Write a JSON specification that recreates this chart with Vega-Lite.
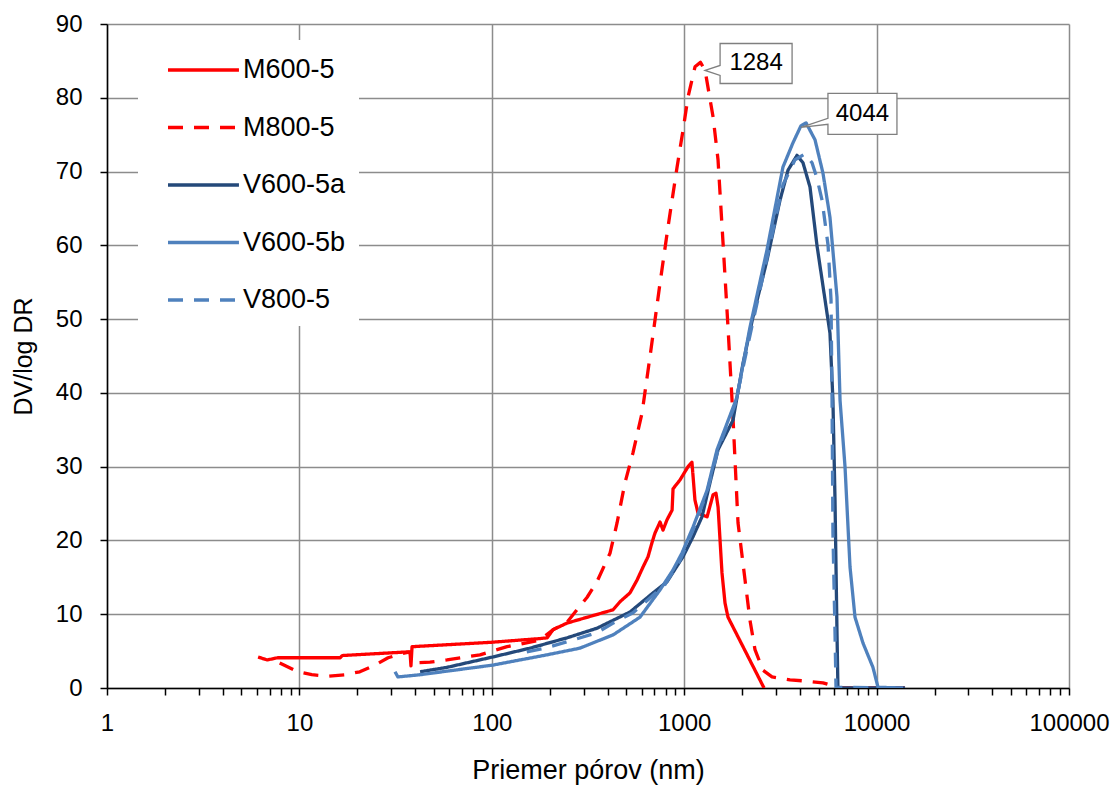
{
  "$schema": "https://vega.github.io/schema/vega-lite/v6.json",
  "width": 962,
  "height": 664,
  "autosize": "none",
  "padding": {"left": 107, "top": 24, "right": 47, "bottom": 99},
  "background": "white",
  "config": {
    "view": {"stroke": null},
    "font": "Liberation Sans",
    "axis": {"labelFont": "Liberation Sans", "titleFont": "Liberation Sans", "labelColor": "black", "titleColor": "black", "titleFontWeight": "normal"}
  },
  "datasets": {
    "curves": [
      {"s": "M600-5", "x": 6.1, "y": 4.2}, {"s": "M600-5", "x": 6.8, "y": 3.8}, {"s": "M600-5", "x": 7.7, "y": 4.1},
      {"s": "M600-5", "x": 16.3, "y": 4.1}, {"s": "M600-5", "x": 16.7, "y": 4.4}, {"s": "M600-5", "x": 37.0, "y": 4.9},
      {"s": "M600-5", "x": 37.6, "y": 4.8}, {"s": "M600-5", "x": 38.0, "y": 3.0}, {"s": "M600-5", "x": 38.5, "y": 5.6},
      {"s": "M600-5", "x": 100, "y": 6.2}, {"s": "M600-5", "x": 178, "y": 6.7}, {"s": "M600-5", "x": 194, "y": 6.8},
      {"s": "M600-5", "x": 208, "y": 7.9}, {"s": "M600-5", "x": 246, "y": 8.8}, {"s": "M600-5", "x": 427, "y": 10.6},
      {"s": "M600-5", "x": 464, "y": 11.7}, {"s": "M600-5", "x": 523, "y": 12.9}, {"s": "M600-5", "x": 568, "y": 14.6},
      {"s": "M600-5", "x": 611, "y": 16.4}, {"s": "M600-5", "x": 649, "y": 17.8}, {"s": "M600-5", "x": 680, "y": 19.7},
      {"s": "M600-5", "x": 705, "y": 21.0}, {"s": "M600-5", "x": 749, "y": 22.5}, {"s": "M600-5", "x": 776, "y": 21.4},
      {"s": "M600-5", "x": 814, "y": 22.8}, {"s": "M600-5", "x": 865, "y": 24.1}, {"s": "M600-5", "x": 875, "y": 27.0},
      {"s": "M600-5", "x": 951, "y": 28.2}, {"s": "M600-5", "x": 1047, "y": 30.0}, {"s": "M600-5", "x": 1097, "y": 30.6},
      {"s": "M600-5", "x": 1137, "y": 25.5}, {"s": "M600-5", "x": 1180, "y": 23.7}, {"s": "M600-5", "x": 1315, "y": 23.2},
      {"s": "M600-5", "x": 1413, "y": 26.2}, {"s": "M600-5", "x": 1463, "y": 26.4}, {"s": "M600-5", "x": 1500, "y": 24.5},
      {"s": "M600-5", "x": 1572, "y": 15.6}, {"s": "M600-5", "x": 1630, "y": 11.5}, {"s": "M600-5", "x": 1689, "y": 9.6},
      {"s": "M600-5", "x": 2600, "y": 0},

      {"s": "M800-5", "x": 7.9, "y": 3.4}, {"s": "M800-5", "x": 9.8, "y": 2.2}, {"s": "M800-5", "x": 11.6, "y": 1.8},
      {"s": "M800-5", "x": 14.1, "y": 1.6}, {"s": "M800-5", "x": 17.3, "y": 1.8}, {"s": "M800-5", "x": 20.6, "y": 2.2},
      {"s": "M800-5", "x": 24.7, "y": 3.1}, {"s": "M800-5", "x": 28.9, "y": 4.1}, {"s": "M800-5", "x": 34.5, "y": 4.7},
      {"s": "M800-5", "x": 37.6, "y": 4.9}, {"s": "M800-5", "x": 38.5, "y": 3.4}, {"s": "M800-5", "x": 47.7, "y": 3.5},
      {"s": "M800-5", "x": 58.5, "y": 3.8}, {"s": "M800-5", "x": 86.8, "y": 4.5}, {"s": "M800-5", "x": 120, "y": 5.6},
      {"s": "M800-5", "x": 178, "y": 6.5}, {"s": "M800-5", "x": 208, "y": 7.9}, {"s": "M800-5", "x": 246, "y": 8.9},
      {"s": "M800-5", "x": 281, "y": 10.8}, {"s": "M800-5", "x": 313, "y": 12.3}, {"s": "M800-5", "x": 352, "y": 14.4},
      {"s": "M800-5", "x": 412, "y": 18.3}, {"s": "M800-5", "x": 448, "y": 22.4}, {"s": "M800-5", "x": 492, "y": 27.8},
      {"s": "M800-5", "x": 542, "y": 31.9}, {"s": "M800-5", "x": 604, "y": 37.3}, {"s": "M800-5", "x": 664, "y": 44.9},
      {"s": "M800-5", "x": 749, "y": 54.9}, {"s": "M800-5", "x": 824, "y": 62.5}, {"s": "M800-5", "x": 918, "y": 70.6},
      {"s": "M800-5", "x": 986, "y": 75.6}, {"s": "M800-5", "x": 1047, "y": 80.1}, {"s": "M800-5", "x": 1138, "y": 84.2},
      {"s": "M800-5", "x": 1215, "y": 84.8}, {"s": "M800-5", "x": 1284, "y": 83.7}, {"s": "M800-5", "x": 1413, "y": 77.4},
      {"s": "M800-5", "x": 1499, "y": 71.6}, {"s": "M800-5", "x": 1592, "y": 60.3}, {"s": "M800-5", "x": 1689, "y": 48.9},
      {"s": "M800-5", "x": 1793, "y": 36.7}, {"s": "M800-5", "x": 1904, "y": 22.4}, {"s": "M800-5", "x": 2072, "y": 14.6},
      {"s": "M800-5", "x": 2197, "y": 9.2}, {"s": "M800-5", "x": 2333, "y": 5.2}, {"s": "M800-5", "x": 2568, "y": 2.4},
      {"s": "M800-5", "x": 2860, "y": 1.5}, {"s": "M800-5", "x": 3546, "y": 1.1}, {"s": "M800-5", "x": 4247, "y": 0.95},
      {"s": "M800-5", "x": 5262, "y": 0.7}, {"s": "M800-5", "x": 5930, "y": 0.3}, {"s": "M800-5", "x": 6295, "y": 0},
      {"s": "M800-5", "x": 14000, "y": 0},

      {"s": "V600-5a", "x": 42.4, "y": 2.2}, {"s": "V600-5a", "x": 58.5, "y": 2.8}, {"s": "V600-5a", "x": 101, "y": 4.2},
      {"s": "V600-5a", "x": 158, "y": 5.4}, {"s": "V600-5a", "x": 246, "y": 6.8}, {"s": "V600-5a", "x": 352, "y": 8.1},
      {"s": "V600-5a", "x": 523, "y": 10.3}, {"s": "V600-5a", "x": 689, "y": 12.9}, {"s": "V600-5a", "x": 814, "y": 14.4},
      {"s": "V600-5a", "x": 986, "y": 17.8}, {"s": "V600-5a", "x": 1111, "y": 20.5}, {"s": "V600-5a", "x": 1237, "y": 23.2},
      {"s": "V600-5a", "x": 1361, "y": 27.8}, {"s": "V600-5a", "x": 1499, "y": 32.3}, {"s": "V600-5a", "x": 1793, "y": 36.3},
      {"s": "V600-5a", "x": 2021, "y": 44.0}, {"s": "V600-5a", "x": 2278, "y": 50.3}, {"s": "V600-5a", "x": 2694, "y": 58.0},
      {"s": "V600-5a", "x": 3146, "y": 66.1}, {"s": "V600-5a", "x": 3465, "y": 70.2}, {"s": "V600-5a", "x": 3858, "y": 72.2},
      {"s": "V600-5a", "x": 4143, "y": 71.2}, {"s": "V600-5a", "x": 4506, "y": 67.9}, {"s": "V600-5a", "x": 4898, "y": 60.0},
      {"s": "V600-5a", "x": 5723, "y": 48.1}, {"s": "V600-5a", "x": 5930, "y": 39.0}, {"s": "V600-5a", "x": 6079, "y": 25.5},
      {"s": "V600-5a", "x": 6225, "y": 7.5}, {"s": "V600-5a", "x": 6295, "y": 0}, {"s": "V600-5a", "x": 14060, "y": 0},

      {"s": "V600-5b", "x": 31.4, "y": 2.2}, {"s": "V600-5b", "x": 32.5, "y": 1.5}, {"s": "V600-5b", "x": 42.4, "y": 1.8},
      {"s": "V600-5b", "x": 101, "y": 3.1}, {"s": "V600-5b", "x": 194, "y": 4.5}, {"s": "V600-5b", "x": 287, "y": 5.4},
      {"s": "V600-5b", "x": 427, "y": 7.2}, {"s": "V600-5b", "x": 589, "y": 9.6}, {"s": "V600-5b", "x": 749, "y": 13.3},
      {"s": "V600-5b", "x": 875, "y": 16.0}, {"s": "V600-5b", "x": 974, "y": 18.3}, {"s": "V600-5b", "x": 1111, "y": 21.8},
      {"s": "V600-5b", "x": 1315, "y": 26.8}, {"s": "V600-5b", "x": 1481, "y": 32.3}, {"s": "V600-5b", "x": 1880, "y": 39.4},
      {"s": "V600-5b", "x": 2197, "y": 48.9}, {"s": "V600-5b", "x": 2694, "y": 59.4}, {"s": "V600-5b", "x": 3260, "y": 70.6},
      {"s": "V600-5b", "x": 3676, "y": 73.9}, {"s": "V600-5b", "x": 4044, "y": 76.2}, {"s": "V600-5b", "x": 4300, "y": 76.6},
      {"s": "V600-5b", "x": 4786, "y": 74.3}, {"s": "V600-5b", "x": 5262, "y": 69.8}, {"s": "V600-5b", "x": 5723, "y": 63.8},
      {"s": "V600-5b", "x": 6225, "y": 53.0}, {"s": "V600-5b", "x": 6457, "y": 39.0}, {"s": "V600-5b", "x": 6852, "y": 30.0},
      {"s": "V600-5b", "x": 7275, "y": 16.4}, {"s": "V600-5b", "x": 7723, "y": 9.6}, {"s": "V600-5b", "x": 8495, "y": 6.1},
      {"s": "V600-5b", "x": 9572, "y": 2.8}, {"s": "V600-5b", "x": 10170, "y": 0.1}, {"s": "V600-5b", "x": 13710, "y": 0},

      {"s": "V800-5", "x": 152, "y": 4.9}, {"s": "V800-5", "x": 189, "y": 5.4}, {"s": "V800-5", "x": 264, "y": 6.5},
      {"s": "V800-5", "x": 352, "y": 7.5}, {"s": "V800-5", "x": 427, "y": 8.8}, {"s": "V800-5", "x": 542, "y": 10.2},
      {"s": "V800-5", "x": 664, "y": 12.2}, {"s": "V800-5", "x": 794, "y": 14.0}, {"s": "V800-5", "x": 951, "y": 17.3},
      {"s": "V800-5", "x": 1111, "y": 21.4}, {"s": "V800-5", "x": 1315, "y": 26.6}, {"s": "V800-5", "x": 1499, "y": 32.3},
      {"s": "V800-5", "x": 1837, "y": 38.4}, {"s": "V800-5", "x": 2197, "y": 47.8}, {"s": "V800-5", "x": 2694, "y": 58.3},
      {"s": "V800-5", "x": 3260, "y": 68.2}, {"s": "V800-5", "x": 3767, "y": 71.6}, {"s": "V800-5", "x": 4247, "y": 72.4},
      {"s": "V800-5", "x": 4617, "y": 71.2}, {"s": "V800-5", "x": 4898, "y": 69.1}, {"s": "V800-5", "x": 5208, "y": 66.1},
      {"s": "V800-5", "x": 5594, "y": 60.0}, {"s": "V800-5", "x": 5796, "y": 52.6}, {"s": "V800-5", "x": 5867, "y": 39.0},
      {"s": "V800-5", "x": 5930, "y": 21.0}, {"s": "V800-5", "x": 6079, "y": 7.5}, {"s": "V800-5", "x": 6151, "y": 0.1},
      {"s": "V800-5", "x": 14000, "y": 0}
    ],
    "callouts": [
      {"label": "1284", "x": 1284, "y": 83.7},
      {"label": "4044", "x": 4044, "y": 76.0}
    ]
  },
  "layer": [
    {
      "data": {"name": "curves"},
      "mark": {"type": "line", "strokeWidth": 3.3, "strokeJoin": "round", "clip": true},
      "encoding": {
        "x": {
          "field": "x", "type": "quantitative",
          "scale": {"type": "log", "domain": [1, 100000], "nice": false},
          "axis": {
            "values": [1, 10, 100, 1000, 10000, 100000], "format": "d",
            "title": "Priemer pórov (nm)", "titleFontSize": 27, "titlePadding": 22,
            "labelFontSize": 24, "labelPadding": 16, "labelFlush": false,
            "grid": true, "gridColor": "#8c8c8c", "gridWidth": 1.5,
            "domainColor": "black", "domainWidth": 1.5,
            "tickColor": "black", "tickWidth": 1.5, "tickSize": 7
          }
        },
        "y": {
          "field": "y", "type": "quantitative",
          "scale": {"domain": [0, 90], "nice": false},
          "axis": {
            "values": [0, 10, 20, 30, 40, 50, 60, 70, 80, 90],
            "title": "DV/log DR", "titleFontSize": 25, "titlePadding": 19,
            "labelFontSize": 24, "labelPadding": 18,
            "grid": true, "gridColor": "#8c8c8c", "gridWidth": 1.5,
            "domainColor": "black", "domainWidth": 1.5,
            "tickColor": "black", "tickWidth": 1.5, "tickSize": 7
          }
        },
        "color": {
          "field": "s", "type": "nominal",
          "scale": {"domain": ["M600-5", "M800-5", "V600-5a", "V600-5b", "V800-5"], "range": ["#ff0000", "#ff0000", "#24497a", "#4f81bd", "#4f81bd"]},
          "legend": {
            "title": null, "orient": "none", "legendX": 31, "legendY": 16,
            "fillColor": "white", "padding": 13,
            "symbolType": "M0,0 L4.73,0", "symbolSize": 900, "symbolStrokeWidth": 3.5,
            "labelFont": "Liberation Sans", "labelFontSize": 27, "labelColor": "black",
            "labelOffset": 58, "rowPadding": 27.5
          }
        },
        "strokeDash": {
          "field": "s", "type": "nominal",
          "scale": {"domain": ["M600-5", "M800-5", "V600-5a", "V600-5b", "V800-5"], "range": [[1, 0], [15, 11], [1, 0], [1, 0], [15, 11]]},
          "legend": null
        }
      }
    },
    {
      "data": {"name": "callouts"},
      "transform": [{"filter": "datum.label === '1284'"}],
      "mark": {"type": "point", "shape": "M0,0 L0.3,-0.1 L0.3,-0.54 L1.74,-0.54 L1.74,0.26 L0.3,0.26 L0.3,0.1 Z", "size": 10000, "filled": true, "fill": "white", "stroke": "#7f7f7f", "strokeWidth": 1.3, "opacity": 1},
      "encoding": {
        "x": {"field": "x", "type": "quantitative", "axis": {
          "orient": "bottom",
          "values": [2,3,4,5,6,7,8,9,20,30,40,50,60,70,80,90,200,300,400,500,600,700,800,900,2000,3000,4000,5000,6000,7000,8000,9000,20000,30000,40000,50000,60000,70000,80000,90000],
          "labels": false, "grid": false, "domain": false, "title": null, "tickColor": "black", "tickWidth": 1.5, "tickSize": 7}},
        "y": {"field": "y", "type": "quantitative", "axis": null}
      }
    },
    {
      "data": {"name": "callouts"},
      "transform": [{"filter": "datum.label === '4044'"}],
      "mark": {"type": "point", "shape": "M0,0 L0.54,-0.18 L0.54,-0.68 L1.92,-0.68 L1.92,0.14 L0.54,0.14 L0.54,-0.06 Z", "size": 10000, "filled": true, "fill": "white", "stroke": "#7f7f7f", "strokeWidth": 1.3, "opacity": 1},
      "encoding": {
        "x": {"field": "x", "type": "quantitative", "axis": null},
        "y": {"field": "y", "type": "quantitative", "axis": null}
      }
    },
    {
      "data": {"name": "callouts"},
      "transform": [{"filter": "datum.label === '1284'"}],
      "mark": {"type": "text", "font": "Liberation Sans", "fontSize": 24, "color": "black", "dx": 51, "dy": -7, "align": "center", "baseline": "middle"},
      "encoding": {
        "x": {"field": "x", "type": "quantitative", "axis": null},
        "y": {"field": "y", "type": "quantitative", "axis": null},
        "text": {"field": "label"}
      }
    },
    {
      "data": {"name": "callouts"},
      "transform": [{"filter": "datum.label === '4044'"}],
      "mark": {"type": "text", "font": "Liberation Sans", "fontSize": 24, "color": "black", "dx": 61.5, "dy": -13.5, "align": "center", "baseline": "middle"},
      "encoding": {
        "x": {"field": "x", "type": "quantitative", "axis": null},
        "y": {"field": "y", "type": "quantitative", "axis": null},
        "text": {"field": "label"}
      }
    }
  ],
  "resolve": {"axis": {"x": "independent", "y": "independent"}}
}
